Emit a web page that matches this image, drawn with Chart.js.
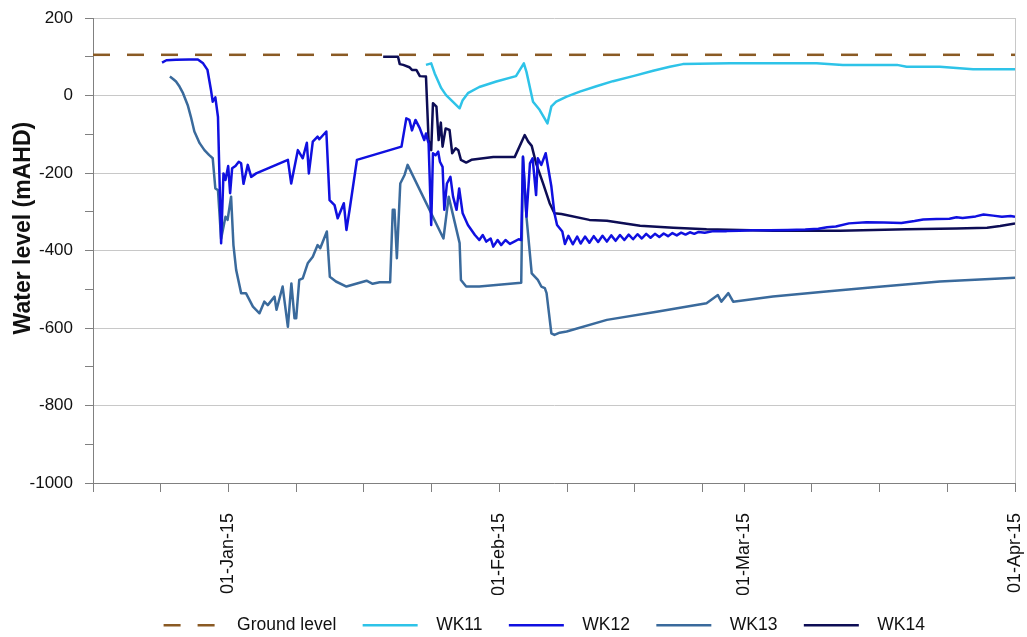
<!DOCTYPE html>
<html>
<head>
<meta charset="utf-8">
<script src="https://cdn.jsdelivr.net/npm/chart.js@4.4.1/dist/chart.umd.min.js"></script>
<style>
  html, body { margin: 0; padding: 0; background: #fff; overflow: hidden; }
  #wrap { width: 1027px; height: 637px; overflow: hidden; }
</style>
</head>
<body>
<div id="wrap"><canvas id="chart" width="1027" height="644"></canvas></div>
<script>
/* DATA (x = days from 01-Jan-15, y = water level mAHD) */
const groundDays   = [-15.5, 90];
const groundLevels = [105, 105];

const wk11Days   = [22.6, 23.2, 23.6, 24.35, 24.9, 26.45, 26.8, 27.4, 28.7, 30.65, 32.9, 33.8, 34.1, 34.85, 35.6, 36.5, 36.95, 37.5, 38.7, 40.2, 42.1, 44.0, 46.3, 48.6, 50.5, 52.0, 57.4, 67.3, 70.3, 76.5, 77.6, 81.4, 85.2, 90];
const wk11Levels = [79, 83, 57, 19, 1, -33, -12, 6, 22, 36, 50, 83, 61, -16, -37, -72, -28, -16, -3, 10, 24, 37, 50, 64, 74, 81, 83, 83, 79, 79, 74, 74, 68, 68];

const wk12Days   = [-7.6, -7.1, -6.0, -4.5, -3.5, -2.9, -2.4, -2.0, -1.8, -1.5, -1.2, -0.84, -0.57, -0.34, -0.03, 0.19, 0.42, 0.8, 1.18, 1.45, 1.72, 2.21, 2.6, 3.17, 6.8, 7.18, 7.94, 8.5, 8.97, 9.2, 9.65, 10.2, 10.4, 11.2, 11.57, 12.14, 12.5, 13.2, 13.5, 13.86, 14.7, 19.8, 20.35, 20.7, 21.0, 21.4, 21.9, 22.4, 22.6, 22.9, 23.2, 23.4, 23.7, 24.0, 24.2, 24.5, 24.7, 25.0, 25.4, 25.7, 26.1, 26.4, 26.8, 27.4, 28.2, 28.7, 29.1, 29.5, 30.0, 30.3, 30.8, 31.2, 31.7, 32.2, 32.7, 33.2, 33.5, 33.7, 34.1, 34.5, 34.8, 35.2, 35.4, 35.8, 36.3, 36.95, 37.3, 37.6, 38.2, 38.5, 38.9, 39.4, 39.9, 40.3, 40.8, 41.3, 41.8, 42.3, 42.8, 43.3, 43.8, 44.3, 44.8, 45.3, 45.8, 46.3, 46.8, 47.3, 47.8, 48.3, 48.8, 49.3, 49.8, 50.3, 50.8, 51.3, 51.8, 52.3, 52.8, 53.3, 53.8, 54.5, 55.5, 57, 58.5, 60, 62, 64, 66, 67.5, 68.5, 69.5, 71, 73, 75, 77, 78.5, 79.5, 81, 82.5, 83.3, 84, 85.5, 86.4, 87.5, 88.5, 89.5, 90];
const wk12Levels = [85, 91, 92, 93, 93, 83, 66, 14, -16, -5, -55, -381, -201, -218, -182, -252, -188, -182, -171, -175, -228, -179, -210, -201, -166, -227, -141, -162, -122, -201, -119, -106, -113, -93, -270, -283, -317, -278, -347, -295, -166, -132, -59, -63, -90, -63, -85, -115, -98, -124, -334, -149, -154, -145, -171, -184, -295, -227, -210, -261, -295, -240, -304, -334, -360, -373, -360, -377, -369, -390, -373, -386, -373, -383, -377, -371, -373, -158, -313, -175, -162, -257, -162, -179, -149, -235, -304, -334, -351, -383, -362, -384, -364, -382, -364, -380, -363, -378, -362, -377, -361, -375, -360, -373, -359, -371, -358, -369, -357, -367, -357, -365, -356, -363, -355, -361, -354, -359, -353, -357, -352, -354, -350, -350, -349, -348, -348, -347, -346, -344, -340, -338, -330, -327, -328, -329, -324, -320, -319, -318, -314, -316, -312, -307, -310, -313, -311, -313];

const wk13Days   = [-6.7, -6.3, -6.0, -5.6, -5.2, -4.66, -4.3, -3.9, -3.3, -2.75, -2.2, -1.8, -1.5, -1.2, -0.84, -0.34, -0.1, 0.3, 0.57, 0.88, 1.45, 2.0, 2.8, 3.55, 4.1, 4.5, 5.27, 5.5, 6.2, 6.8, 7.2, 7.56, 7.75, 8.1, 8.5, 9.07, 9.65, 10.2, 10.5, 11.26, 11.6, 12.3, 13.5, 15.8, 16.5, 17.3, 18.5, 18.8, 19.0, 19.27, 19.66, 20.15, 20.5, 24.6, 25.2, 26.45, 26.6, 27.2, 28.7, 33.5, 33.7, 34.1, 34.7, 35.4, 35.8, 36.2, 36.4, 36.95, 37.3, 37.9, 38.7, 43.3, 49.0, 54.7, 56.0, 56.4, 57.2, 57.75, 62.3, 68.4, 73.8, 81.4, 90];
const wk13Levels = [49, 42, 36, 23, 6, -25, -55, -93, -123, -141, -154, -162, -240, -244, -370, -313, -321, -261, -386, -450, -510, -510, -545, -562, -532, -541, -519, -553, -493, -597, -485, -575, -575, -476, -472, -433, -416, -386, -394, -351, -468, -480, -493, -478, -486, -482, -482, -295, -295, -420, -227, -205, -179, -369, -261, -381, -476, -493, -493, -483, -158, -313, -459, -476, -493, -497, -510, -614, -618, -612, -609, -579, -558, -536, -515, -532, -510, -532, -519, -506, -495, -480, -470];

const wk14Days   = [17.7, 19.4, 19.6, 20.0, 20.7, 21.0, 21.5, 21.9, 22.6, 22.9, 23.2, 23.4, 23.8, 24.05, 24.3, 24.5, 24.85, 25.3, 25.6, 26.0, 26.3, 26.6, 27.2, 27.8, 30.3, 32.75, 33.9, 34.3, 34.7, 35.2, 36.0, 36.75, 37.3, 38.1, 41.3, 43.3, 47.1, 50.9, 54.7, 62.3, 70, 77.6, 83.3, 86.8, 88.3, 90];
const wk14Levels = [100, 100, 81, 79, 73, 66, 66, 50, 49, -115, -141, -20, -29, -115, -70, -132, -85, -89, -149, -136, -141, -166, -173, -166, -159, -159, -102, -119, -130, -175, -227, -278, -304, -306, -321, -323, -336, -341, -345, -349, -349, -345, -343, -341, -337, -330];

const xTickDays  = [-15.5, -7.75, 0, 7.75, 15.5, 23.25, 31, 38.75, 46.5, 54.25, 59, 66.75, 74.5, 82.25, 90];
const xLabelDays = [0, 31, 59, 90];
const xLabelText = ["01-Jan-15", "01-Feb-15", "01-Mar-15", "01-Apr-15"];

const FONT = '"Liberation Sans", Arial, sans-serif';
const pts = (days, levels) => days.map((d, i) => ({ x: d, y: levels[i] }));

function series(label, days, levels, color, dash){
  return {
    label, data: pts(days, levels),
    borderColor: color, backgroundColor: color,
    borderWidth: 2.5, borderDash: dash || [],
    pointRadius: 0, tension: 0, borderJoinStyle: "round", fill: false
  };
}

// legend text spacing: a gap after the sample line, and a little tail on the last item
function legendLabels(chart){
  const items = Chart.defaults.plugins.legend.labels.generateLabels(chart);
  return items.map((l, i) => ({
    ...l,
    lineDash: chart.data.datasets[l.datasetIndex].borderDash,
    text: "  " + l.text + (i === items.length - 1 ? "    " : " ")
  }));
}

new Chart(document.getElementById("chart"), {
  type: "line",
  data: {
    datasets: [
      series("Ground level", groundDays, groundLevels, "#8a5a24", [17, 17]),
      series("WK11", wk11Days, wk11Levels, "#2ec3e8"),
      series("WK12", wk12Days, wk12Levels, "#1010e0"),
      series("WK13", wk13Days, wk13Levels, "#3a6a9c"),
      series("WK14", wk14Days, wk14Levels, "#0d0d55")
    ]
  },
  options: {
    responsive: false,
    animation: false,
    devicePixelRatio: 1,
    layout: { padding: { top: 18, right: 12, left: 0, bottom: 0 } },
    plugins: {
      tooltip: { enabled: false },
      legend: {
        position: "bottom",
        fullSize: false,
        labels: {
          usePointStyle: true, pointStyle: "line", pointStyleWidth: 55,
          padding: 21.5, color: "#111",
          font: { family: FONT, size: 17.5 },
          generateLabels: legendLabels
        }
      }
    },
    scales: {
      x: {
        type: "linear", min: -15.5, max: 90,
        afterBuildTicks: s => { s.ticks = xTickDays.map(v => ({ value: v })); },
        afterFit: s => { s.height = 112; s.paddingLeft = 0; s.paddingRight = 0; },
        grid: {
          drawOnChartArea: true,
          color: c => (c.tick && c.tick.value === 90) ? "#c8c8c8" : "rgba(0,0,0,0)",
          tickColor: "#808080", tickLength: 9
        },
        border: { color: "#808080" },
        ticks: {
          autoSkip: false, minRotation: 90, maxRotation: 90, padding: 21,
          color: "#111", font: { family: FONT, size: 18 },
          callback: v => { const i = xLabelDays.indexOf(v); return i >= 0 ? xLabelText[i] : ""; }
        }
      },
      y: {
        min: -1000, max: 200,
        afterFit: s => { s.width = 93; s.paddingTop = 0; s.paddingBottom = 0; },
        grid: {
          color: c => (c.tick && c.tick.value % 200 === 0) ? "#c8c8c8" : "rgba(0,0,0,0)",
          tickColor: "#808080", tickLength: 8
        },
        border: { color: "#808080" },
        ticks: {
          stepSize: 100, padding: 12, color: "#111",
          font: { family: FONT, size: 17 },
          callback: v => v % 200 === 0 ? String(v) : ""
        },
        title: {
          display: true, text: "       Water level (mAHD)", color: "#111",
          font: { family: FONT, size: 23, weight: "bold" },
          padding: { top: 10, bottom: 0 }
        }
      }
    }
  }
});
</script>
</body>
</html>
